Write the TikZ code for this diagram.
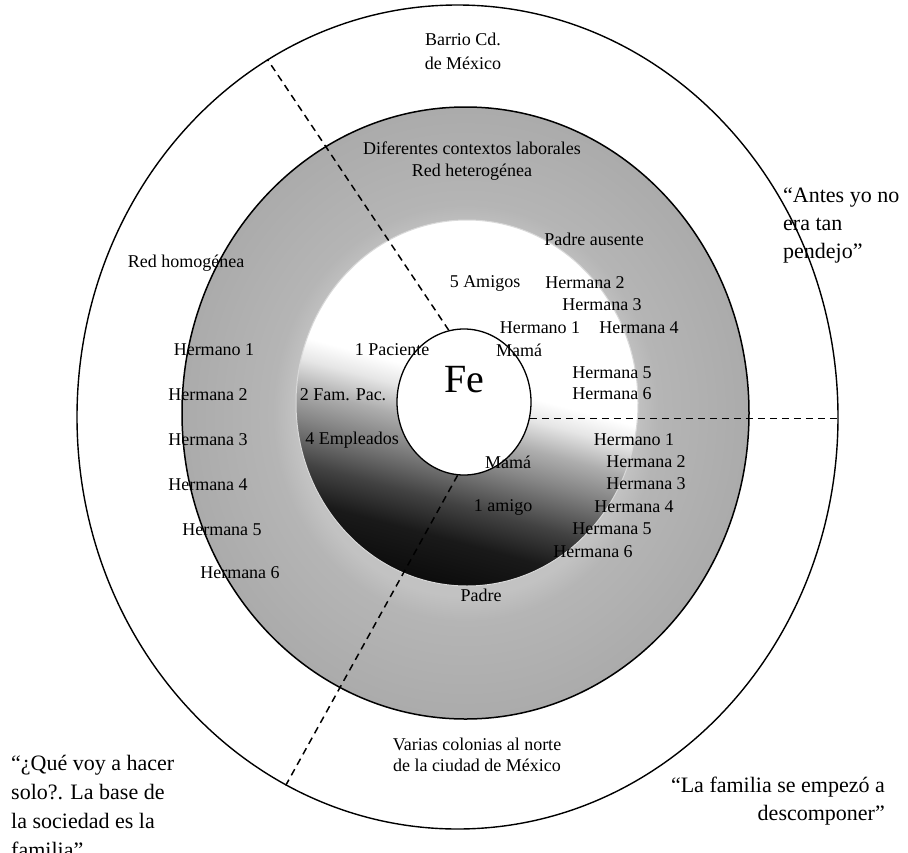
\documentclass[tikz,border=0pt]{standalone}
\usepackage{fontspec}
\setmainfont{Liberation Serif}
\usetikzlibrary{shapes.geometric}

% shadings for the ring and for the inner disk
\pgfdeclareradialshading{anilloshade}{\pgfpoint{0bp}{0bp}}{color(0bp)=(black!22); color(15bp)=(black!24); color(17bp)=(black!29); color(25bp)=(black!33); color(50bp)=(black!33)}
\pgfdeclareverticalshading{discoshade}{100bp}{color(0bp)=(black!95); color(25bp)=(black!95); color(31bp)=(black!90); color(36bp)=(black!74); color(42bp)=(black!48); color(46bp)=(black!32); color(50bp)=(black!10); color(53bp)=(white); color(100bp)=(white)}

\begin{document}
\begin{tikzpicture}[x=1pt, y=-1pt,
		lbl/.style={font=\fontsize{18}{22}\selectfont, inner sep=0pt},
		cita/.style={font=\fontsize{22}{28}\selectfont, inner sep=0pt},
		corte/.style={line width=1.5pt, dash pattern=on 7pt off 5pt}]
		\clip (0,0) rectangle (908,852);
		\fill[white] (0,0) rectangle (908,852);
		
		\node[ellipse, draw, line width=1.4pt, minimum width=761, minimum height=824, inner sep=0pt] (barrio) at (457.5,417) {};
		\node[ellipse, draw, line width=1.5pt, shade, shading=anilloshade, minimum width=567, minimum height=612, inner sep=0pt] (anillo) at (465.5,413) {};
		\node[ellipse, shade, shading=discoshade, shading angle=-15, draw=white!85!black, line width=1pt, minimum width=342, minimum height=366, inner sep=0pt] (disco) at (467,403) {};
		\node[ellipse, draw, fill=white, line width=1.3pt, minimum width=134, minimum height=146, inner sep=0pt] (fe) at (464,402) {};
		
		\draw[corte] (fe.102) -- (barrio.118);
		\draw[corte] (fe.-14) -- (fe.-14 -| barrio.east);
		\draw[corte] (fe.-95) -- (barrio.-115);
		
		\node[font=\fontsize{40}{42}\selectfont, inner sep=0pt] (fetxt) at (464,380) {Fe};
		
		\node[lbl, align=center, font=\fontsize{18}{24}\selectfont] (ciudad) at (463,51) {Barrio Cd.\\de México};
		\node[lbl, align=center] (laboral) at (472,161) {Diferentes contextos laborales\\Red heterogénea};
		\node[lbl, align=center, font=\fontsize{18}{21}\selectfont] (colonias) at (477,755) {Varias colonias al norte\\de la ciudad de México};
		\node[lbl] (homog) at (186,263) {Red homogénea};
		\node[lbl] (ausente) at (594,239) {Padre ausente};
		\node[lbl] (padre) at (481,595) {Padre};
		
		% familia de origen, lado izquierdo
		\foreach \t/\x/\y [count=\i] in {Hermano 1/214/350, Hermana 2/208/395, Hermana 3/208/440, Hermana 4/208/485, Hermana 5/222/530, Hermana 6/240/573}
		{
			\node[lbl] (izq\i) at (\x,\y) {\t};
		}
		\foreach \t/\x/\y [count=\i] in {1 Paciente/392/350, 2 Fam. Pac./343/395, 4 Empleados/352/440}
		{
			\node[lbl] (trab\i) at (\x,\y) {\t};
		}
		% lado derecho, arriba
		\foreach \t/\x/\y [count=\i] in {5 Amigos/485/283, Hermana 2/585/283, Hermana 3/602/305, Hermano 1/540/328, Hermana 4/639/328, Mamá/519/350, Hermana 5/612/373, Hermana 6/612/394}
		{
			\node[lbl] (arr\i) at (\x,\y) {\t};
		}
		% lado derecho, abajo
		\foreach \t/\x/\y [count=\i] in {Hermano 1/634/440, Mamá/508/462, Hermana 2/646/462, Hermana 3/646/484, 1 amigo/503/507, Hermana 4/634/507, Hermana 5/612/529, Hermana 6/593/552}
		{
			\node[lbl] (aba\i) at (\x,\y) {\t};
		}
		
		\node[cita, anchor=west, align=left] (antes) at (783,226) {“Antes yo no\\era tan\\pendejo”};
		\node[cita, anchor=west, align=left, font=\fontsize{22}{29}\selectfont] (solo) at (11,806) {“¿Qué voy a hacer\\solo?. La base de\\la sociedad es la\\familia”};
		\node[cita, anchor=east, align=right] (descomp) at (885,801) {“La familia se empezó a\\descomponer”};
	\end{tikzpicture}
\end{document}
